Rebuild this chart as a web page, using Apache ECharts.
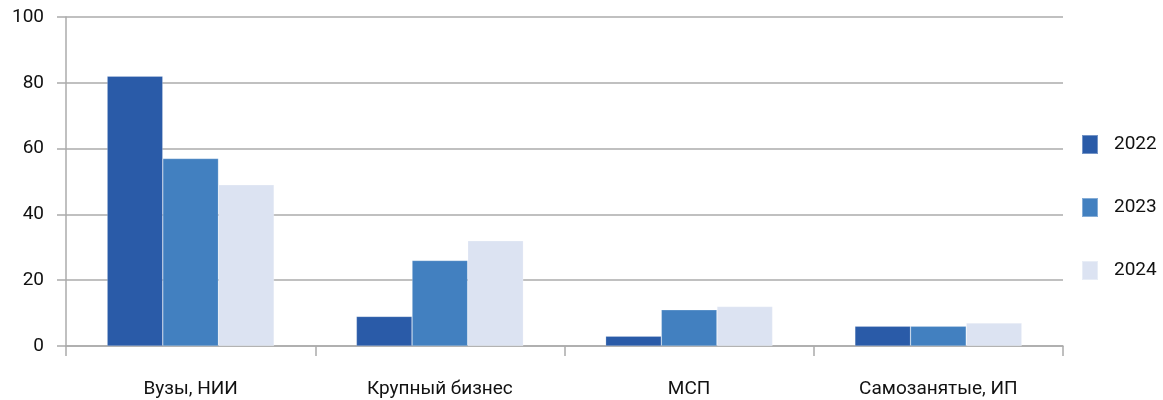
<!DOCTYPE html>
<html>
<head>
<meta charset="utf-8">
<script src="https://cdn.jsdelivr.net/npm/echarts@6/dist/echarts.min.js"></script>
<style>
  html, body { margin: 0; padding: 0; background: #fff; }
  #chart { width: 1163px; height: 400px; }
</style>
</head>
<body>
<div id="chart"></div>
<script>
// Categories along the x axis
const categories = ['Вузы, НИИ', 'Крупный бизнес', 'МСП', 'Самозанятые, ИП'];
// Series values per year
const years = ['2022', '2023', '2024'];
const values2022 = [82, 9, 3, 6];
const values2023 = [57, 26, 11, 6];
const values2024 = [49, 32, 12, 7];
const seriesValues = [values2022, values2023, values2024];
const seriesColors = ['#2A5BA8', '#4280C0', '#DCE3F2'];

const gridColor = '#ABABAB';
const textColor = '#111111';
const fontFamily = 'Roboto, "Noto Sans", sans-serif';

const chart = echarts.init(document.getElementById('chart'), null, { renderer: 'canvas' });

chart.setOption({
  animation: false,
  backgroundColor: '#ffffff',
  textStyle: { fontFamily: fontFamily },
  grid: { left: 66, right: 100, top: 17, bottom: 54, containLabel: false },
  legend: {
    orient: 'vertical',
    left: 1076,
    top: 129,
    itemWidth: 16,
    itemHeight: 19,
    itemGap: 42,
    icon: 'rect',
    textStyle: { fontSize: 19, color: textColor, fontFamily: fontFamily, padding: [0, 0, 8, 11] },
    data: years
  },
  xAxis: {
    type: 'category',
    data: categories,
    axisLine: { show: true, lineStyle: { color: gridColor, width: 1.5 } },
    axisTick: { show: true, length: 10, inside: false, lineStyle: { color: gridColor, width: 1.5 } },
    axisLabel: { fontSize: 19, color: textColor, margin: 34, fontFamily: fontFamily },
    splitLine: { show: false }
  },
  yAxis: {
    type: 'value',
    min: 0,
    max: 100,
    interval: 20,
    axisLine: { show: true, lineStyle: { color: gridColor, width: 1.5 } },
    axisTick: { show: true, length: 9, lineStyle: { color: gridColor, width: 1.5 } },
    axisLabel: { fontSize: 19, color: textColor, margin: 22, fontFamily: fontFamily },
    splitLine: { show: true, lineStyle: { color: gridColor, width: 1.5 } }
  },
  series: years.map((y, i) => ({
    name: y,
    type: 'bar',
    data: seriesValues[i],
    barGap: '0%',
    barCategoryGap: '33%',
    itemStyle: { color: seriesColors[i], borderColor: 'rgba(255,255,255,0.35)', borderWidth: 0.6 }
  }))
});
</script>
</body>
</html>
